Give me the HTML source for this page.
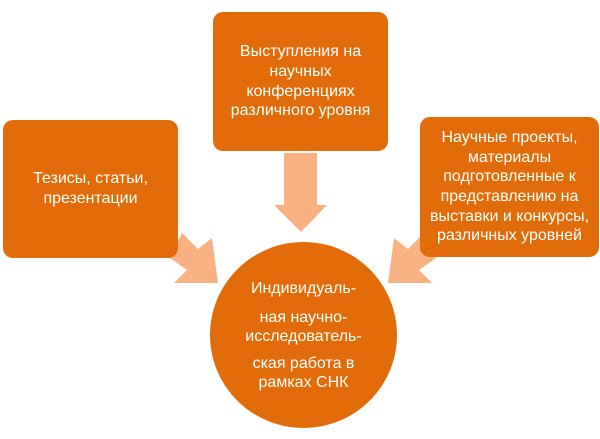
<!DOCTYPE html>
<html><head><meta charset="utf-8"><style>
body{margin:0;width:600px;height:439px;background:#fff;position:relative;overflow:hidden;font-family:"Liberation Sans",sans-serif}
.b{position:absolute;background:#e36c0a;border-radius:10px;color:#fff;font-size:16px;line-height:19.6px;text-align:center;display:flex;align-items:center;justify-content:center;white-space:nowrap}
</style></head><body>
<svg width="600" height="439" style="position:absolute;left:0;top:0">
<g fill="#f7b183">
<polygon points="284,153 317,153 317,205 327,205 301,232 274,205 284,205"/>
<polygon points="182,233 198,249 212,238 218,283 174,283 187,270 170,258"/>
<polygon points="424,233 408,249 394,238 388,283 432,283 419,270 436,258"/>
</g>
</svg>
<div class="b" style="left:213px;top:12px;width:175px;height:139px">Выступления на<br>научных<br>конференциях<br>различного уровня</div>
<div class="b" style="left:3px;top:120px;width:175px;height:138px">Тезисы, статьи,<br>презентации</div>
<div class="b" style="left:420px;top:117px;width:179px;height:140px">Научные проекты,<br>материалы<br>подготовленные к<br>представлению на<br>выставки и конкурсы,<br>различных уровней</div>
<div class="b" style="left:210px;top:242px;width:187px;height:186px;border-radius:50%;line-height:19px"><div>Индивидуаль-<br><span style="display:inline-block;margin-top:10px">ная научно-</span><br>исследователь-<br><span style="display:inline-block;margin-top:8px">ская работа в</span><br>рамках СНК</div></div>
</body></html>
